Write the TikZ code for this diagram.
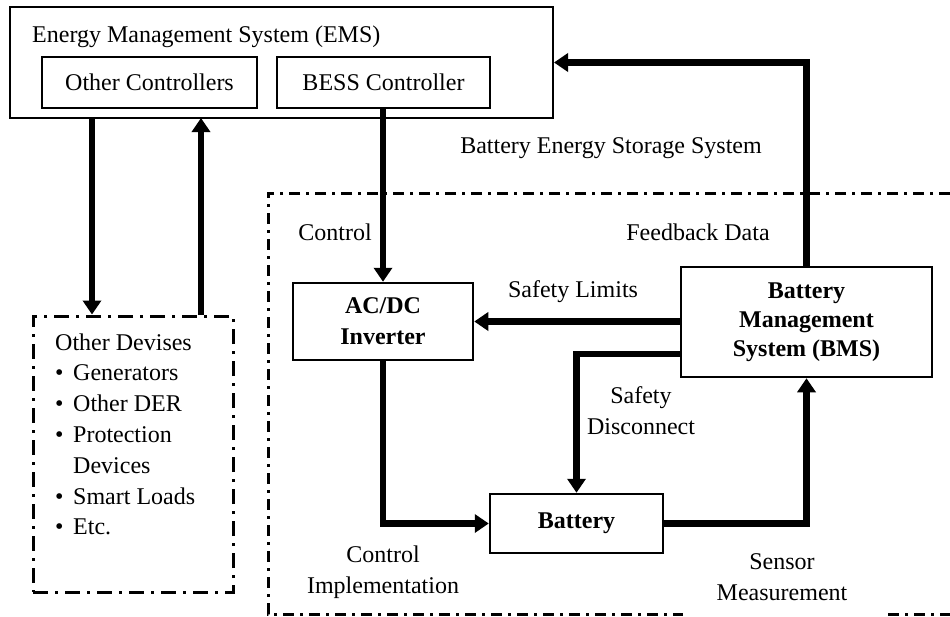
\documentclass[tikz,border=0pt]{standalone}
\usepackage{fontspec}
\setmainfont{Liberation Serif}
\usetikzlibrary{arrows.meta,calc}
\begin{document}
\begin{tikzpicture}[x=1pt,y=-1pt,
  every node/.style={font=\fontsize{24}{31}\selectfont},
  box/.style={draw,line width=2.5pt,inner sep=0pt,align=center},
  flow/.style={line width=6.5pt,-{Triangle[length=14pt,width=18pt]}},
  lbl/.style={inner sep=0pt,align=center},
  bessline/.style={line width=3pt,dash pattern=on 11pt off 6pt on 3pt off 6pt},
  devline/.style={line width=3pt,dash pattern=on 15pt off 7pt on 3pt off 7pt}]
\useasboundingbox (0,0) rectangle (950,616);

% Battery energy storage system boundary
\draw[bessline] (950,193) -- (268,193) -- (268,614) -- (683,614);
\draw[bessline] (888,614) -- (950,614);

% Energy management system
\node[box,line width=2pt,minimum width=543pt,minimum height=111pt] (ems) at (281.5,62.5) {};
\node[lbl,anchor=west] (emstitle) at (32,37) {Energy Management System (EMS)};
\node[box,minimum width=215pt,minimum height=51pt] (other) at (149.5,82.5) {Other Controllers};
\node[box,minimum width=213pt,minimum height=51pt] (bessc) at (383.5,82.5) {BESS Controller};

% Other devices
\node[draw,devline,inner sep=0pt,minimum width=200pt,minimum height=276pt] (dev) at (133,454) {};
\node[lbl,anchor=base west] (dev0) at (55,350) {Other Devises};
\node[lbl,anchor=base west] (dev1) at (55,380.8) {\makebox[18pt][l]{\textbullet}Generators};
\node[lbl,anchor=base west] (dev2) at (55,411.6) {\makebox[18pt][l]{\textbullet}Other DER};
\node[lbl,anchor=base west] (dev3) at (55,442.4) {\makebox[18pt][l]{\textbullet}Protection};
\node[lbl,anchor=base west] (dev4) at (73,473.2) {Devices};
\node[lbl,anchor=base west] (dev5) at (55,504) {\makebox[18pt][l]{\textbullet}Smart Loads};
\node[lbl,anchor=base west] (dev6) at (55,534.8) {\makebox[18pt][l]{\textbullet}Etc.};

% BESS components
\node[box,font=\fontsize{24}{31}\selectfont\bfseries,minimum width=180pt,minimum height=77pt] (inv) at (383,321.5) {AC/DC\\Inverter};
\node[box,font=\fontsize{24}{29}\selectfont\bfseries,minimum width=251pt,minimum height=110pt] (bms) at (806.5,322) {Battery\\Management\\System (BMS)};
\node[box,font=\fontsize{24}{31}\selectfont\bfseries,minimum width=173pt,minimum height=59pt] (bat) at (576.5,523.5) {Battery};

% Labels
\node[lbl] (lbess) at (611,148) {Battery Energy Storage System};
\node[lbl] (lctrl) at (335,232) {Control};
\node[lbl] (lfb) at (698,232) {Feedback Data};
\node[lbl] (llim) at (573,292) {Safety Limits};
\node[lbl] (ldisc) at (641,411) {Safety\\Disconnect};
\node[lbl] (limpl) at (383,572) {Control\\Implementation};
\node[lbl] (lsens) at (782,577) {Sensor\\Measurement};

% Connectors
\coordinate (emsdown) at (92,118);
\coordinate (emsup) at (201,118);
\draw[flow] (emsdown) -- (emsdown |- dev.north);
\draw[flow] (emsup |- dev.north) -- (emsup);
\draw[flow] (inv.north |- bessc.south) -- (inv.north);
\draw[flow] (bms.north) |- (ems.east);
\draw[flow] (bms.west |- inv.east) -- (inv.east);
\draw[flow] ([yshift=-32pt]bms.west) -| (bat.north);
\draw[flow] (inv.south) |- (bat.west);
\draw[flow] (bat.east) -| (bms.south);
\end{tikzpicture}
\end{document}
